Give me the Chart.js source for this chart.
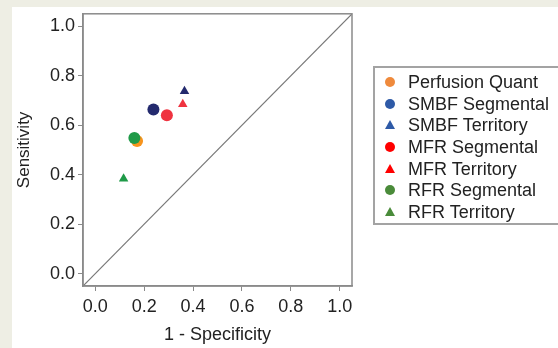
<!DOCTYPE html>
<html>
<head>
<meta charset="utf-8">
<script src="https://cdn.jsdelivr.net/npm/chart.js@4"></script>
<style>
  html, body { margin: 0; width: 558px; height: 348px; overflow: hidden; background: #eeeee4; font-family: "Liberation Sans", Arial, sans-serif; }
  #panel { position: absolute; left: 12px; top: 7px; width: 546px; height: 341px; background: #fff; }
  #chart { position: absolute; left: 0; top: 0; }
  #legend { position: absolute; left: 373px; top: 66px; width: 185px; height: 159px; border: 2px solid #a3a3a3; border-right: none; box-sizing: border-box; overflow: hidden; }
  .row { position: absolute; left: 0; height: 20px; font-size: 18px; color: #222; line-height: 20px; }
  .row span.txt { position: absolute; left: 33px; top: 0; white-space: nowrap; }
  .dot { position: absolute; left: 10px; top: 5px; width: 10px; height: 10px; border-radius: 50%; }
  .tri { position: absolute; left: 10px; top: 5px; width: 0; height: 0; border-left: 5px solid transparent; border-right: 5px solid transparent; border-bottom: 9px solid; }
</style>
</head>
<body>
<div id="panel"></div>
<canvas id="chart" width="558" height="348"></canvas>
<div id="legend"></div>
<script>
// legend / series names
var seriesNames = ["Perfusion Quant", "SMBF Segmental", "SMBF Territory", "MFR Segmental", "MFR Territory", "RFR Segmental", "RFR Territory"];
var seriesShapes = ["circle", "circle", "triangle", "circle", "triangle", "circle", "triangle"];
// 1 - specificity (x) and sensitivity (y) for each series
var specX = [0.171, 0.238, 0.365, 0.293, 0.358, 0.160, 0.116];
var sensY = [0.536, 0.663, 0.737, 0.640, 0.684, 0.548, 0.383];
var pointColors = ["#f7941d", "#232a6e", "#232a6e", "#ef3340", "#ef3340", "#1f9a48", "#1f9a48"];
var legendColors = ["#ef8a3c", "#2e5aa7", "#2e5aa7", "#ff0000", "#ff0000", "#4a8b3a", "#4a8b3a"];
var drawOrder = [2, 1, 1, 1, 1, 1, 1];
// reference line
var diagonal = [{x: -0.05, y: -0.05}, {x: 1.05, y: 1.05}];

var datasets = [];
for (var i = 0; i < seriesNames.length; i++) {
    datasets.push({
        type: 'scatter',
        label: seriesNames[i],
        data: [{x: specX[i], y: sensY[i]}],
        pointStyle: seriesShapes[i],
        pointRadius: seriesShapes[i] == "circle" ? 6 : 5.5,
        backgroundColor: pointColors[i],
        borderColor: pointColors[i],
        borderWidth: 0,
        order: drawOrder[i]
    });
}
datasets.push({
    type: 'line',
    label: 'diagonal',
    data: diagonal,
    borderColor: '#777',
    borderWidth: 1.2,
    pointRadius: 0,
    order: 5
});

var framePlugin = {
    id: 'frame',
    afterDraw: function(chart) {
        var a = chart.chartArea, ctx = chart.ctx;
        ctx.save();
        ctx.strokeStyle = '#8a8a8a';
        ctx.lineWidth = 1.5;
        ctx.strokeRect(a.left, a.top, a.right - a.left, a.bottom - a.top);
        ctx.restore();
    }
};

var tickFont = {family: '"Liberation Sans", Arial, sans-serif', size: 18};
var ctx = document.getElementById("chart").getContext('2d');
var myChart = new Chart(ctx, {
    data: { datasets: datasets },
    options: {
        responsive: false,
        animation: false,
        layout: { padding: { top: 13, right: 206, left: 0, bottom: 0 } },
        plugins: { legend: { display: false }, tooltip: { enabled: false } },
        scales: {
            x: {
                type: 'linear', min: -0.05, max: 1.05,
                grid: { drawOnChartArea: false, tickLength: 5, color: '#8a8a8a' },
                border: { color: '#8a8a8a', width: 1.5 },
                ticks: { stepSize: 0.2, includeBounds: false, padding: 5, color: '#222', font: tickFont,
                    callback: function(v) { return v.toFixed(1); } },
                title: { display: true, text: '1 - Specificity', color: '#222', font: tickFont, padding: { top: 0, bottom: 2 } },
                afterFit: function(s) { s.height = 62; }
            },
            y: {
                type: 'linear', min: -0.05, max: 1.05,
                grid: { drawOnChartArea: false, tickLength: 5, color: '#8a8a8a' },
                border: { color: '#8a8a8a', width: 1.5 },
                ticks: { stepSize: 0.2, includeBounds: false, padding: 3, color: '#222', font: tickFont,
                    callback: function(v) { return v.toFixed(1); } },
                title: { display: true, text: 'Sensitivity', color: '#222', font: {family: tickFont.family, size: 17}, padding: { top: 14, bottom: 0 } },
                afterFit: function(s) { s.width = 83; }
            }
        }
    },
    plugins: [framePlugin]
});

// legend box
var legend = document.getElementById("legend");
for (var j = 0; j < seriesNames.length; j++) {
    var row = document.createElement("div");
    row.className = "row";
    row.style.top = (4 + j * 21.67) + "px";
    var mark = document.createElement("div");
    mark.className = seriesShapes[j] == "circle" ? "dot" : "tri";
    if (seriesShapes[j] == "circle") mark.style.background = legendColors[j];
    else mark.style.borderBottomColor = legendColors[j];
    row.appendChild(mark);
    var txt = document.createElement("span");
    txt.className = "txt";
    txt.textContent = seriesNames[j];
    row.appendChild(txt);
    legend.appendChild(row);
}
</script>
</body>
</html>
